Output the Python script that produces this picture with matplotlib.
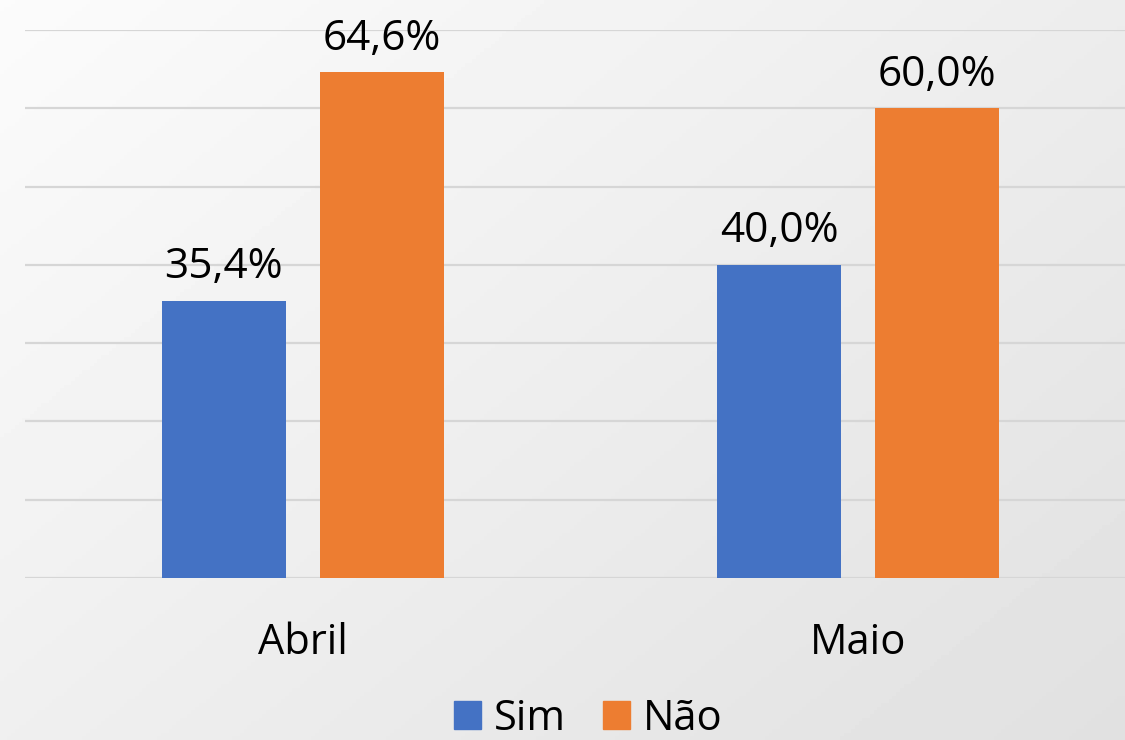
import numpy as np
import matplotlib
matplotlib.use("Agg")
import matplotlib.pyplot as plt
from matplotlib.patches import Patch

# data
categories = ["Abril", "Maio"]
sim = [35.4, 40.0]
nao = [64.6, 60.0]
series_names = ["Sim", "Não"]
colors = ["#4472C4", "#ED7D31"]

plt.rcParams["font.family"] = ["Open Sans", "DejaVu Sans"]

W, H = 1125, 740
fig = plt.figure(figsize=(W / 100, H / 100), dpi=100)

# soft grey gradient background
bg = fig.add_axes([0, 0, 1, 1], zorder=-10)
yy, xx = np.mgrid[0:1:200j, 0:1:300j]
grad = 0.985 - 0.105 * (0.55 * xx + 0.45 * yy)
bg.imshow(grad, cmap="gray", vmin=0, vmax=1, aspect="auto", extent=[0, 1, 0, 1], origin="upper")
bg.axis("off")

ax = fig.add_axes([25 / W, (H - 578) / H, 1111 / W, 548 / H])
ax.patch.set_alpha(0)

x = np.arange(len(categories))
w = 0.2232
off = 0.142
b1 = ax.bar(x - off, sim, w, color=colors[0], zorder=3)
b2 = ax.bar(x + off, nao, w, color=colors[1], zorder=3)

for bars in (b1, b2):
    for r in bars:
        v = r.get_height()
        ax.annotate(f"{v:.1f}%".replace(".", ","), (r.get_x() + r.get_width() / 2, v),
                    xytext=(0, 9), textcoords="offset points", ha="center", va="bottom",
                    fontsize=30.5, color="black")

ax.set_xlim(-0.5, 1.5)
ax.set_ylim(0, 70)
ax.set_yticks(np.arange(0, 71, 10))
ax.yaxis.grid(True, color="#d6d6d6", linewidth=1.6, zorder=0)
ax.set_axisbelow(True)
ax.tick_params(axis="y", left=False, labelleft=False)
ax.tick_params(axis="x", length=0, pad=32, labelsize=30)
ax.set_xticks(x)
ax.set_xticklabels(categories)
for s in ax.spines.values():
    s.set_visible(False)

handles = [Patch(color=c, label=n) for c, n in zip(colors, series_names)]
fig.legend(handles=handles, loc="center", bbox_to_anchor=(0.523, (H - 719) / H), ncol=2,
           frameon=False, fontsize=30, handlelength=0.65, handleheight=0.65,
           handletextpad=0.3, columnspacing=0.9, borderpad=0)

fig.savefig("out.png", dpi=100)
